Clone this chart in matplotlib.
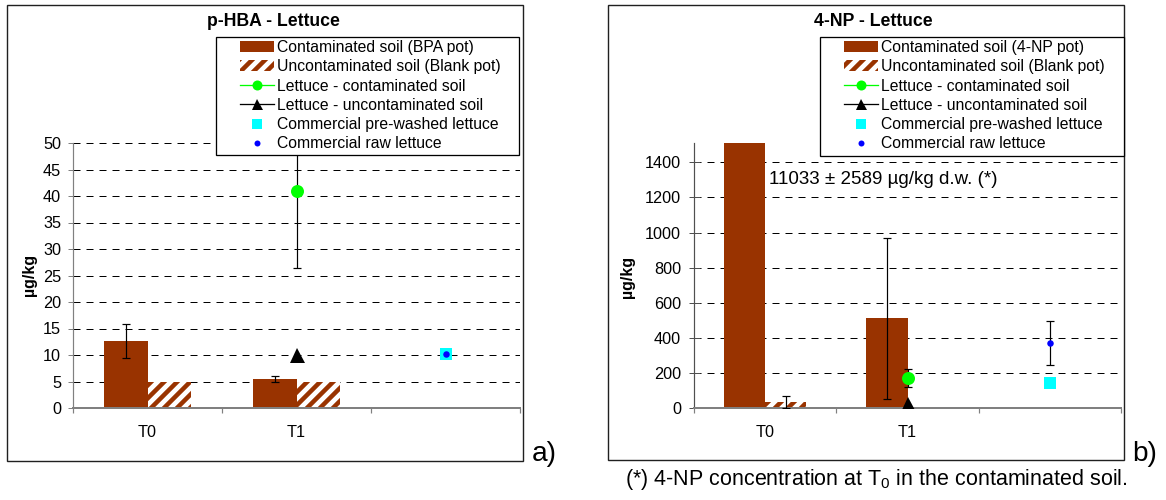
import numpy as np
import matplotlib
matplotlib.use("Agg")
import matplotlib.pyplot as plt
from matplotlib.patches import Patch, Rectangle
from matplotlib.lines import Line2D

DPI = 78
W, H = 1166, 500

categories = ["T0", "T1", ""]

# p-HBA (left panel), µg/kg
hba_contam = [12.6, 5.4]
hba_contam_err = [3.2, 0.55]
hba_blank = [5.0, 5.0]
hba_blank_err = [0, 0]
hba_lettuce_contam = 40.9
hba_lettuce_contam_err = 14.4
hba_lettuce_blank = 10.0
hba_prewashed = 10.1
hba_raw = 10.1
hba_raw_err = 0

# 4-NP (right panel), µg/kg
np_contam = [11033, 512]
np_contam_err = [2589, 458]
np_blank = [35, 0]
np_blank_err = [33, 0]
np_lettuce_contam = 172
np_lettuce_contam_err = 52
np_lettuce_blank = 25
np_prewashed = 142
np_raw = 370
np_raw_err = 125

BROWN = "#993300"


def pt(p):
    # pixels -> points
    return p * 72 / DPI


def fx(p):
    return p / W


def fy(p):
    return 1 - p / H


plt.rcParams["font.family"] = ["Liberation Sans", "DejaVu Sans"]
plt.rcParams["mathtext.fontset"] = "custom"
plt.rcParams["mathtext.rm"] = "Liberation Sans"
plt.rcParams["mathtext.default"] = "regular"
plt.rcParams["hatch.linewidth"] = pt(4.5)
plt.rcParams["hatch.color"] = BROWN
plt.rcParams["lines.scale_dashes"] = False

x = np.arange(len(categories))
bw = 0.29


def draw_panel(ax, contam, contam_err, blank, blank_err, lc, lc_err, lb,
               prewashed, raw, raw_err, ymax, yticks, axis_col, tick_dir, tick_len, pad):
    xs = x[:2]
    ax.bar(xs - bw / 2, contam, bw, color=BROWN, linewidth=0)
    ax.bar(xs + bw / 2, blank, bw, facecolor="white", edgecolor=BROWN,
           hatch="//", linewidth=0)

    err_kw = dict(fmt="none", ecolor="black", elinewidth=pt(1.2),
                  capsize=pt(4), capthick=pt(1.2), zorder=3)
    for xi, v, e in zip(xs - bw / 2, contam, contam_err):
        if e > 0:
            ax.errorbar(xi, v, yerr=e, **err_kw)
    for xi, v, e in zip(xs + bw / 2, blank, blank_err):
        if e > 0:
            ax.errorbar(xi, v, yerr=e, **err_kw)

    ax.errorbar(x[1], lc, yerr=lc_err, **err_kw)
    ax.plot(x[1], lc, "o", color="#00ff00", markersize=pt(13), markeredgewidth=0, zorder=4)
    ax.plot(x[1], lb, "^", color="black", markersize=pt(15), markeredgewidth=0, zorder=4)

    if raw_err > 0:
        ax.errorbar(x[2], raw, yerr=raw_err, **err_kw)
    ax.plot(x[2], prewashed, "s", color="#00ffff", markersize=pt(11.5), markeredgewidth=0, zorder=4)
    ax.plot(x[2], raw, "o", color="#0000ff", markersize=pt(6.5), markeredgewidth=0, zorder=5)

    ax.set_xlim(-0.5, 2.5)
    ax.set_ylim(0, ymax)
    ax.set_yticks(yticks)
    ax.set_xticks([-0.5, 0.5, 1.5, 2.5])
    ax.set_xticklabels([])
    ax.set_xticks(x, minor=True)
    ax.set_xticklabels(categories, minor=True)
    ax.tick_params(axis="x", which="major", direction="out", length=pt(5),
                   width=pt(1.2), color="#808080")
    ax.tick_params(axis="x", which="minor", length=0, pad=pt(17), labelsize=pt(16.3))
    ax.tick_params(axis="y", direction=tick_dir, length=tick_len, width=pt(1),
                   color=axis_col, pad=pad, labelsize=pt(16.3))

    ax.yaxis.grid(True, color="black", linewidth=pt(1), linestyle=(0, (pt(7), pt(6))))
    ax.set_axisbelow(True)
    for s in ["top", "right"]:
        ax.spines[s].set_visible(False)
    ax.spines["bottom"].set_color("#808080")
    ax.spines["bottom"].set_linewidth(pt(2))
    ax.spines["left"].set_color(axis_col)
    ax.spines["left"].set_linewidth(pt(1.2))


def add_legend(fig, first_label, box, anchor):
    x0, y0, x1, y1 = box
    fig.add_artist(Rectangle((fx(x0), fy(y1)), (x1 - x0) / W, (y1 - y0) / H,
                             transform=fig.transFigure, facecolor="white",
                             edgecolor="black", linewidth=pt(1.3), zorder=5))
    handles = [
        Patch(facecolor=BROWN, linewidth=0),
        Patch(facecolor="white", edgecolor=BROWN, hatch="//", linewidth=0),
        Line2D([], [], color="#00ff00", linewidth=pt(1.3), marker="o",
               markersize=pt(10), markeredgewidth=0),
        Line2D([], [], color="black", linewidth=pt(1.3), marker="^",
               markersize=pt(11), markeredgewidth=0),
        Line2D([], [], linestyle="none", color="#00ffff", marker="s",
               markersize=pt(9.5), markeredgewidth=0),
        Line2D([], [], linestyle="none", color="#0000ff", marker="o",
               markersize=pt(6), markeredgewidth=0),
    ]
    labels = [first_label,
              "Uncontaminated soil (Blank pot)",
              "Lettuce - contaminated soil",
              "Lettuce - uncontaminated soil",
              "Commercial pre-washed lettuce",
              "Commercial raw lettuce"]
    fs = 15.8
    leg = fig.legend(handles, labels, loc="upper left",
                     bbox_to_anchor=(fx(anchor[0]), fy(anchor[1])),
                     frameon=False, borderpad=0, borderaxespad=0,
                     handlelength=34 / fs, handleheight=0.7,
                     handletextpad=3 / fs, labelspacing=0.27,
                     fontsize=pt(fs), numpoints=1)
    leg.set_zorder(6)


fig = plt.figure(figsize=(W / DPI, H / DPI), dpi=DPI)

# outer boxes
for bx in [(7, 5, 523, 461), (608, 5, 1124, 460)]:
    fig.add_artist(Rectangle((fx(bx[0]), fy(bx[3])), (bx[2] - bx[0]) / W,
                             (bx[3] - bx[1]) / H, transform=fig.transFigure,
                             fill=False, edgecolor="#202020", linewidth=pt(1.4), zorder=1))

ax1 = fig.add_axes([fx(73), fy(408), 447 / W, 265 / H])
draw_panel(ax1, hba_contam, hba_contam_err, hba_blank, hba_blank_err,
           hba_lettuce_contam, hba_lettuce_contam_err, hba_lettuce_blank,
           hba_prewashed, hba_raw, hba_raw_err,
           50, np.arange(0, 51, 5), "#808080", "out", pt(5), pt(7))

ax2 = fig.add_axes([fx(694), fy(408), 427 / W, 265 / H])
draw_panel(ax2, np_contam, np_contam_err, np_blank, np_blank_err,
           np_lettuce_contam, np_lettuce_contam_err, np_lettuce_blank,
           np_prewashed, np_raw, np_raw_err,
           1510, np.arange(0, 1401, 200), "#505050", "inout", pt(11), pt(7.5))

fig.text(fx(273), fy(22), "p-HBA - Lettuce", ha="center", va="center",
         fontsize=pt(17.6), fontweight="bold")
fig.text(fx(873), fy(22), "4-NP - Lettuce", ha="center", va="center",
         fontsize=pt(17.6), fontweight="bold")

fig.text(fx(30), fy(275), "µg/kg", rotation=90, ha="center", va="center",
         fontsize=pt(16), fontweight="bold")
fig.text(fx(628), fy(277), "µg/kg", rotation=90, ha="center", va="center",
         fontsize=pt(16), fontweight="bold")

add_legend(fig, "Contaminated soil (BPA pot)", (216, 37, 519, 155), (240, 40))
add_legend(fig, "Contaminated soil (4-NP pot)", (820, 37, 1124, 156), (844, 40))

fig.text(fx(769), fy(180), f"{np_contam[0]} ± {np_contam_err[0]} µg/kg d.w. (*)",
         ha="left", va="center", fontsize=pt(18.7))

fig.text(fx(532), fy(454), "a)", ha="left", va="center", fontsize=pt(28))
fig.text(fx(1132), fy(454), "b)", ha="left", va="center", fontsize=pt(28))

fig.text(fx(625), fy(479), "(*) 4-NP concentration at T$_0$ in the contaminated soil.",
         ha="left", va="center", fontsize=pt(21.5))

fig.savefig("out.png", dpi=DPI)
